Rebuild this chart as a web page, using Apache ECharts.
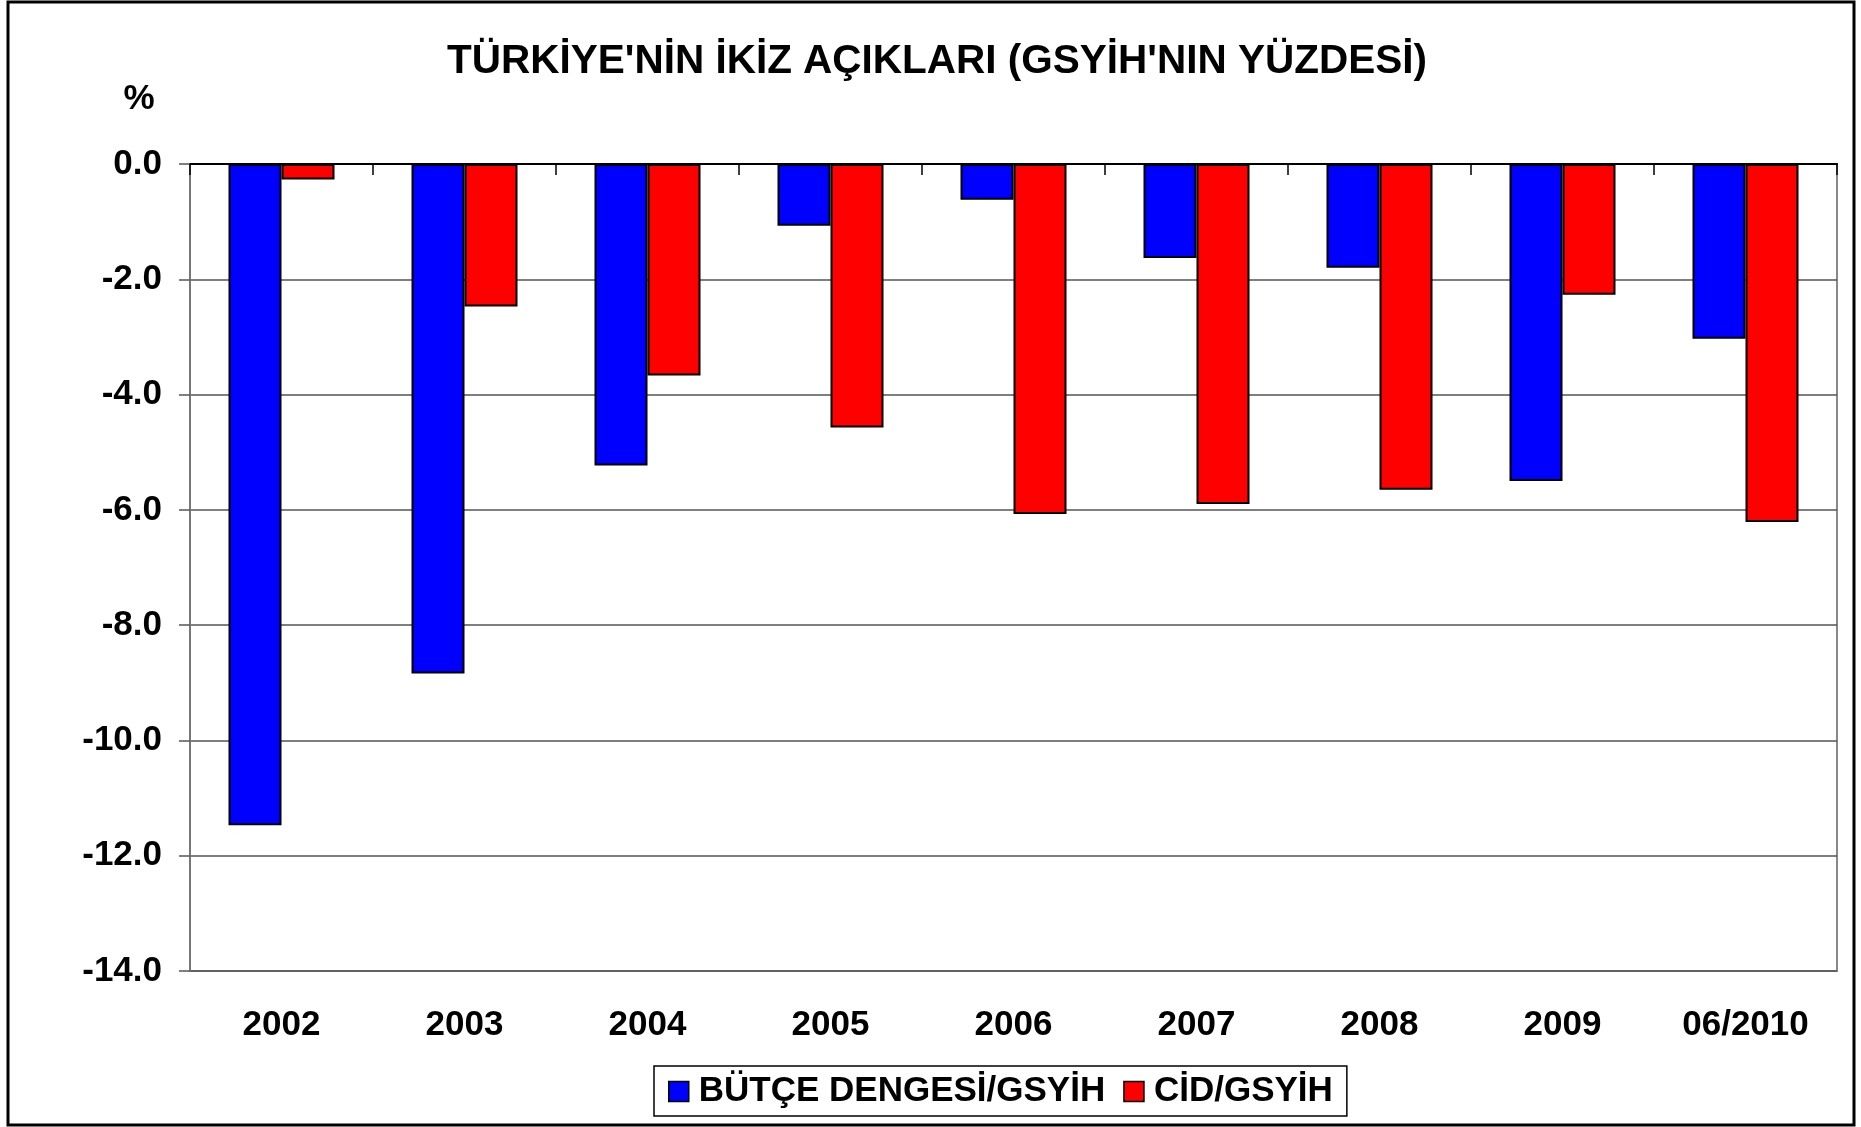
<!DOCTYPE html>
<html>
<head>
<meta charset="utf-8">
<title>Türkiye'nin İkiz Açıkları</title>
<script src="https://cdn.jsdelivr.net/npm/echarts@6/dist/echarts.min.js"></script>
<style>
  html, body { margin: 0; padding: 0; background: #fff; }
  #chart { width: 1861px; height: 1127px; }
</style>
</head>
<body>
<div id="chart"></div>
<script>
const years = ["2002", "2003", "2004", "2005", "2006", "2007", "2008", "2009", "06/2010"];
const butceDengesi = [-11.47, -8.84, -5.23, -1.07, -0.62, -1.63, -1.8, -5.5, -3.03];
const cid = [-0.27, -2.47, -3.67, -4.57, -6.07, -5.9, -5.65, -2.27, -6.21];
const seriesNames = ["BÜTÇE DENGESİ/GSYİH", "CİD/GSYİH"];

const font = '"Liberation Sans", Arial, sans-serif';
const chart = echarts.init(document.getElementById("chart"));

const barStyle = (color) => ({
  color: color,
  borderColor: "#000",
  borderWidth: 2
});

chart.setOption({
  backgroundColor: "#fff",
  animation: false,
  title: [
    {
      text: "TÜRKİYE'NİN İKİZ AÇIKLARI (GSYİH'NIN YÜZDESİ)",
      left: 932,
      top: 36,
      textAlign: "center",
      textStyle: { fontFamily: font, fontSize: 40.5, fontWeight: "bold", color: "#000" }
    },
    {
      text: "%",
      left: 134,
      top: 77,
      textAlign: "center",
      textStyle: { fontFamily: font, fontSize: 35, fontWeight: "bold", color: "#000" }
    }
  ],
  legend: {
    data: seriesNames,
    icon: "rect",
    left: 654,
    top: 1066,
    orient: "horizontal",
    itemWidth: 20,
    itemHeight: 20,
    itemGap: 18,
    padding: [8, 14, 7, 14],
    borderColor: "#000",
    borderWidth: 1.5,
    backgroundColor: "#fff",
    itemStyle: { borderColor: "#000", borderWidth: 1.5 },
    textStyle: {
      fontFamily: font, fontSize: 35, fontWeight: "bold", color: "#000",
      padding: [0, 0, 0, 5]
    }
  },
  grid: {
    left: 190,
    right: 24,
    top: 164,
    bottom: 156,
    show: true,
    borderColor: "#888",
    borderWidth: 2,
    backgroundColor: "#fff"
  },
  xAxis: [
    {
      type: "category",
      data: years,
      position: "top",
      axisLine: { show: true, lineStyle: { color: "#000", width: 2 } },
      axisTick: { show: true, inside: true, length: 11, lineStyle: { color: "#000", width: 1.5 } },
      axisLabel: { show: false },
      splitLine: { show: false }
    },
    {
      type: "category",
      data: years,
      position: "bottom",
      axisLine: { show: false },
      axisTick: { show: false },
      axisLabel: {
        margin: 37,
        fontFamily: font, fontSize: 35, fontWeight: "bold", color: "#000"
      }
    }
  ],
  yAxis: {
    type: "value",
    min: -14,
    max: 0,
    interval: 2,
    axisLine: { show: true, lineStyle: { color: "#777", width: 2 } },
    axisTick: { show: true, length: 11, lineStyle: { color: "#555", width: 1.5 } },
    axisLabel: {
      margin: 28,
      formatter: (v) => v.toFixed(1),
      fontFamily: font, fontSize: 35, fontWeight: "bold", color: "#000"
    },
    splitLine: { show: true, lineStyle: { color: "#555", width: 1.5 } }
  },
  series: [
    {
      name: seriesNames[0],
      type: "bar",
      xAxisIndex: 0,
      data: butceDengesi,
      barWidth: 53,
      barGap: "0%",
      itemStyle: barStyle("#0000FF")
    },
    {
      name: seriesNames[1],
      type: "bar",
      xAxisIndex: 0,
      data: cid,
      barWidth: 53,
      barGap: "0%",
      itemStyle: barStyle("#FF0000")
    }
  ],
  graphic: [
    {
      type: "rect",
      shape: { x: 8, y: 2, width: 1846, height: 1123 },
      style: { fill: null, stroke: "#000", lineWidth: 3 },
      silent: true
    }
  ]
});
</script>
</body>
</html>
